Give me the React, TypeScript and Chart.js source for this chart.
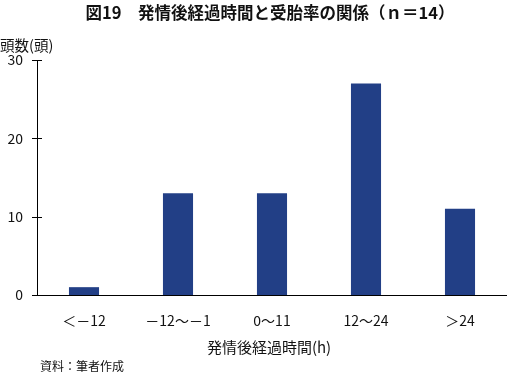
import React, { useEffect, useRef } from "react";
import { Chart, registerables } from "chart.js";

Chart.register(...registerables);

const categories = ["＜－12", "－12～－1", "0～11", "12～24", "＞24"];
const headCounts = [1, 13, 13, 27, 11];
const yTicks = [0, 10, 20, 30];

const titleText = "図19　発情後経過時間と受胎率の関係（ｎ＝14）";
const yUnitText = "頭数(頭)";
const xTitleText = "発情後経過時間(h)";
const sourceText = "資料：筆者作成";

const FONT = '"Noto Sans CJK JP", "Noto Sans", sans-serif';

const W = 507;
const H = 374;
const AREA = { left: 37, right: 507, top: 60, bottom: 295 };

const decorPlugin = {
  id: "decor",
  afterDraw(chart: any) {
    const ctx = chart.ctx as CanvasRenderingContext2D;
    const y = chart.scales.y;
    const left = chart.chartArea.left;
    const bottom = chart.chartArea.bottom;
    ctx.save();
    ctx.strokeStyle = "#000";
    ctx.lineWidth = 1;
    // tick marks crossing the value axis
    yTicks.forEach((v) => {
      const py = Math.round(y.getPixelForValue(v)) + 0.5;
      if (v === 0) return;
      ctx.beginPath();
      ctx.moveTo(left - 5, py);
      ctx.lineTo(left + 5, py);
      ctx.stroke();
    });
    // base line runs a little past the value axis
    ctx.beginPath();
    ctx.moveTo(left - 5, Math.round(bottom) + 0.5);
    ctx.lineTo(left, Math.round(bottom) + 0.5);
    ctx.stroke();

    ctx.fillStyle = "#111";
    ctx.textBaseline = "middle";
    ctx.textAlign = "center";
    ctx.font = `bold 16.5px ${FONT}`;
    ctx.fillText(titleText, 270, 13);
    ctx.textAlign = "left";
    ctx.font = `14.5px ${FONT}`;
    ctx.fillText(yUnitText, 0, 45);
    ctx.font = `15px ${FONT}`;
    ctx.textAlign = "center";
    ctx.fillText(xTitleText, 269, 347);
    ctx.textAlign = "left";
    ctx.font = `12px ${FONT}`;
    ctx.fillText(sourceText, 40, 366);
    ctx.restore();
  },
};

export default function App() {
  const ref = useRef<HTMLCanvasElement | null>(null);

  useEffect(() => {
    if (!ref.current) return;
    const chart = new Chart(ref.current, {
      type: "bar",
      data: {
        labels: categories,
        datasets: [
          {
            data: headCounts,
            backgroundColor: "#223f86",
            barPercentage: 0.32,
            categoryPercentage: 1,
          },
        ],
      },
      options: {
        animation: false,
        responsive: false,
        maintainAspectRatio: false,
        layout: { padding: { left: 0, right: 0, top: AREA.top, bottom: 0 } },
        plugins: {
          legend: { display: false },
          tooltip: { enabled: false },
          title: { display: false },
        },
        scales: {
          x: {
            grid: { display: false, drawTicks: false },
            border: { display: true, color: "#000", width: 1 },
            ticks: {
              color: "#111",
              font: { family: FONT, size: 14 },
              padding: 17,
              maxRotation: 0,
              autoSkip: false,
            },
            afterFit(scale: any) {
              scale.height = H - AREA.bottom;
            },
          },
          y: {
            min: 0,
            max: 30,
            afterBuildTicks(scale: any) {
              scale.ticks = yTicks.map((v) => ({ value: v }));
            },
            grid: { display: false, drawTicks: false },
            border: { display: true, color: "#000", width: 1 },
            ticks: {
              color: "#111",
              font: { family: FONT, size: 14 },
              padding: 14,
            },
            afterFit(scale: any) {
              scale.width = AREA.left;
            },
          },
        },
      },
      plugins: [decorPlugin],
    });
    return () => chart.destroy();
  }, []);

  return (
    <div style={{ position: "fixed", left: 0, top: 0, width: W, height: H, background: "#fff" }}>
      <canvas ref={ref} width={W} height={H} style={{ width: W, height: H, display: "block" }} />
    </div>
  );
}
